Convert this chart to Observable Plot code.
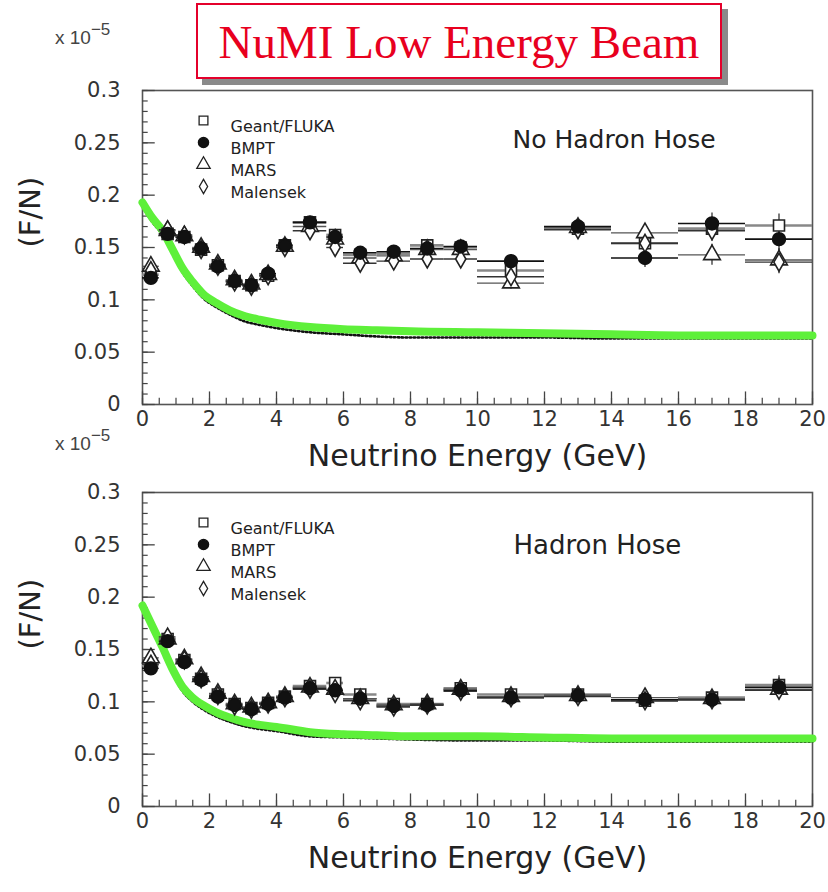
<!DOCTYPE html>
<html><head><meta charset="utf-8">
<script src="https://cdn.jsdelivr.net/npm/d3@7"></script>
<script src="https://cdn.jsdelivr.net/npm/@observablehq/plot@0.6"></script>
<style>
body{margin:0;background:#fff;}
#wrap{position:relative;width:828px;height:892px;overflow:hidden;font-family:"DejaVu Sans",Arial,sans-serif;}
#title{position:absolute;left:196px;top:3px;width:522px;height:72px;border:2px solid #e4002b;background:#fff;box-shadow:6px 6px 0 #8a8a8a;color:#e8001e;font-family:"Liberation Serif","Times New Roman",serif;font-size:47px;text-align:center;line-height:74px;z-index:5;white-space:nowrap}
.exp{position:absolute;font-size:19px;color:#444;z-index:4;font-family:"Liberation Sans",Arial,sans-serif}
.exp sup{font-size:17px;position:relative;top:-2px}
.panel{position:absolute;left:0;}
</style></head><body>
<div id="wrap">
  <div id="title">NuMI Low Energy Beam</div>
  <div class="exp" style="left:55px;top:22px">x 10<sup>−5</sup></div>
  <div class="exp" style="left:55px;top:428px">x 10<sup>−5</sup></div>
  <div class="panel" id="p1" style="top:0px"></div>
  <div class="panel" id="p2" style="top:412px"></div>
</div>
<script>
// ---- bins ----
const binCenter = [0.25,0.75,1.25,1.75,2.25,2.75,3.25,3.75,4.25,5,5.75,6.5,7.5,8.5,9.5,11,13,15,17,19];
const binLow    = [0,0.5,1,1.5,2,2.5,3,3.5,4,4.5,5.5,6,7,8,9,10,12,14,16,18];
const binHigh   = [0.5,1,1.5,2,2.5,3,3.5,4,4.5,5.5,6,7,8,9,10,12,14,16,18,20];

// ---- No Hadron Hose (top) ----
const topGeant    = [0.124,0.163,0.160,0.148,0.133,0.118,0.114,0.123,0.152,0.174,0.162,0.143,0.144,0.152,0.150,0.128,0.168,0.154,0.168,0.171];
const topBMPT     = [0.121,0.163,0.160,0.149,0.132,0.118,0.114,0.125,0.152,0.174,0.160,0.145,0.146,0.149,0.151,0.137,0.170,0.140,0.173,0.158];
const topMARS     = [0.132,0.166,0.161,0.150,0.134,0.119,0.115,0.124,0.151,0.170,0.158,0.140,0.142,0.148,0.148,0.116,0.169,0.164,0.143,0.138];
const topMalensek = [0.128,0.167,0.162,0.148,0.132,0.117,0.113,0.123,0.150,0.166,0.150,0.135,0.137,0.139,0.139,0.122,0.167,0.154,0.166,0.136];
const topErr      = [0.004,0.004,0.004,0.004,0.004,0.004,0.004,0.004,0.004,0.005,0.005,0.005,0.005,0.005,0.005,0.006,0.007,0.009,0.010,0.011];

// ---- Hadron Hose (bottom) ----
const botGeant    = [0.135,0.160,0.140,0.122,0.107,0.098,0.094,0.099,0.105,0.115,0.118,0.107,0.098,0.098,0.113,0.107,0.107,0.101,0.104,0.116];
const botBMPT     = [0.132,0.158,0.138,0.121,0.105,0.097,0.093,0.098,0.104,0.113,0.111,0.103,0.096,0.097,0.111,0.104,0.106,0.102,0.102,0.114];
const botMARS     = [0.142,0.160,0.141,0.124,0.108,0.098,0.095,0.099,0.105,0.114,0.112,0.103,0.097,0.098,0.112,0.105,0.106,0.104,0.103,0.112];
const botMalensek = [0.136,0.162,0.140,0.122,0.106,0.096,0.093,0.098,0.104,0.112,0.108,0.101,0.095,0.097,0.110,0.104,0.105,0.101,0.102,0.111];
const botErr      = [0.003,0.003,0.003,0.003,0.003,0.003,0.003,0.003,0.003,0.004,0.004,0.004,0.004,0.004,0.004,0.005,0.005,0.006,0.007,0.009];

// ---- green overlay curve & dotted MC curve ----
const curveE      = [0,0.3,0.6,0.9,1.2,1.5,1.8,2.2,2.6,3,3.5,4,5,6,7,8,10,12,14,16,18,20];
const greenTop    = [0.193,0.178,0.166,0.148,0.130,0.117,0.106,0.097,0.090,0.085,0.081,0.078,0.074,0.072,0.071,0.070,0.069,0.068,0.067,0.066,0.066,0.066];
const greenBottom = [0.192,0.172,0.152,0.131,0.114,0.104,0.097,0.090,0.085,0.081,0.078,0.076,0.071,0.069,0.068,0.067,0.067,0.066,0.065,0.065,0.065,0.065];
const dotsTop     = [0.189,0.174,0.162,0.144,0.126,0.113,0.102,0.093,0.086,0.080,0.076,0.073,0.069,0.067,0.065,0.064,0.064,0.064,0.063,0.063,0.063,0.063];
const dotsBottom  = [0.188,0.168,0.148,0.127,0.110,0.100,0.093,0.086,0.081,0.077,0.074,0.072,0.067,0.066,0.065,0.064,0.063,0.063,0.062,0.062,0.062,0.062];

// ---- ticks & labels ----
const xMajor = [0,2,4,6,8,10,12,14,16,18,20];
const xMinor = d3.range(0, 20.01, 0.5);
const yMajor = [0,0.05,0.1,0.15,0.2,0.25,0.3];
const yMinor = d3.range(0, 0.3001, 0.01);
const yTickLabels = ["0","0.05","0.1","0.15","0.2","0.25","0.3"];
const seriesNames = ["Geant/FLUKA","BMPT","MARS","Malensek"];

const seriesStyle = {
  "Geant/FLUKA": {symbol:"square", r:6.2, fill:"white", stroke:"#222", bar:"#888", barW:2.6},
  "BMPT":        {symbol:"circle", r:6.4, fill:"#111", stroke:"#111", bar:"#111", barW:1.6},
  "MARS":        {symbol:"triangle", r:6.2, fill:"white", stroke:"#222", bar:"#555", barW:1.4},
  "Malensek":    {symbol:"diamond", r:5.4, fill:"white", stroke:"#222", bar:"#333", barW:1.4}
};

function records(arrs, err){
  const out = [];
  seriesNames.forEach((s, k) => {
    arrs[k].forEach((v, i) => out.push({series:s, E:binCenter[i], lo:binLow[i], hi:binHigh[i], v, err:err[i]}));
  });
  return out;
}

const FONT = "'DejaVu Sans', 'Liberation Sans', Arial, sans-serif";

function panel(cfg){
  const recs = records(cfg.arrs, cfg.err);
  const curve = curveE.map((e,i)=>({E:e, g:cfg.green[i], d:cfg.dots[i]}));
  const marks = [
    Plot.frame({stroke:"#555", strokeWidth:1.6}),
    Plot.axisX({ticks:xMajor, tickSize:0, tickPadding:7, fontSize:21, label:null, fill:"#333", tickFormat:d=>String(d)}),
    Plot.axisY({ticks:yMajor, tickSize:0, tickPadding:22, fontSize:21, label:null, fill:"#333", tickFormat:d=>yTickLabels[Math.round(d/0.05)]}),
    Plot.ruleY(yMinor, {y:d=>d, x1:0, x2:0.17, stroke:"#444", strokeWidth:1.2}),
    Plot.ruleY(yMajor, {y:d=>d, x1:0, x2:0.38, stroke:"#444", strokeWidth:1.3}),
    Plot.ruleX(xMinor, {x:d=>d, y1:0, y2:0.006, stroke:"#444", strokeWidth:1.2}),
    Plot.ruleX(xMajor, {x:d=>d, y1:0, y2:0.012, stroke:"#444", strokeWidth:1.3}),
    Plot.line(curve, {x:"E", y:"d", stroke:"#111", strokeWidth:2.6, strokeDasharray:"1.5,2.5", curve:"monotone-x"}),
    Plot.line(curve, {x:"E", y:"g", stroke:"#5ef03a", strokeWidth:8, curve:"monotone-x", strokeLinecap:"round"})
  ];
  for (const s of seriesNames) {
    const st = seriesStyle[s];
    const data = recs.filter(d=>d.series===s);
    marks.push(Plot.ruleY(data, {y:"v", x1:"lo", x2:"hi", stroke:st.bar, strokeWidth:st.barW}));
  }
  marks.push(Plot.ruleX(recs, {x:"E", y1:d=>d.v-d.err, y2:d=>d.v+d.err, stroke:"#333", strokeWidth:1.3}));
  for (const s of ["Geant/FLUKA","MARS","Malensek","BMPT"]) {
    const st = seriesStyle[s];
    marks.push(Plot.dot(recs.filter(d=>d.series===s), {x:"E", y:"v", symbol:st.symbol, r:st.r, fill:st.fill, stroke:st.stroke, strokeWidth:1.6}));
  }
  // legend
  seriesNames.forEach((s,i)=>{
    const st = seriesStyle[s];
    marks.push(Plot.dot([s], {frameAnchor:"top-left", dx:61, dy:30+22*i, symbol:st.symbol, r:st.r*0.8, fill:st.fill, stroke:st.stroke, strokeWidth:1.3}));
    marks.push(Plot.text([s], {frameAnchor:"top-left", dx:88, dy:30+22*i, text:d=>d, textAnchor:"start", fontSize:16, fill:"#222"}));
  });
  marks.push(Plot.text([cfg.label], {frameAnchor:"top-left", dx:cfg.labelDx, dy:cfg.labelDy, text:d=>d, textAnchor:"start", fontSize:cfg.labelSize, fill:"#222"}));
  marks.push(Plot.text(["(F/N)"], {frameAnchor:"left", dx:-112, rotate:-90, text:d=>d, fontSize:29, fill:"#222"}));
  marks.push(Plot.text(["Neutrino Energy (GeV)"], {frameAnchor:"bottom", dy:61, text:d=>d, fontSize:30, fill:"#222"}));
  return Plot.plot({
    width:828, height:480,
    marginLeft:142, marginRight:16, marginTop:cfg.mt, marginBottom:cfg.mb,
    x:{domain:[0,20]}, y:{domain:[0,0.3]},
    style:{background:"none", fontFamily:FONT, overflow:"visible"},
    marks
  });
}

document.getElementById("p1").append(panel({
  arrs:[topGeant, topBMPT, topMARS, topMalensek], err:topErr,
  green:greenTop, dots:dotsTop, label:"No Hadron Hose", labelDx:370, labelDy:40, labelSize:25, mt:90, mb:76
}));
document.getElementById("p2").append(panel({
  arrs:[botGeant, botBMPT, botMARS, botMalensek], err:botErr,
  green:greenBottom, dots:dotsBottom, label:"Hadron Hose", labelDx:371, labelDy:43, labelSize:26, mt:80, mb:86
}));
</script>
</body></html>
